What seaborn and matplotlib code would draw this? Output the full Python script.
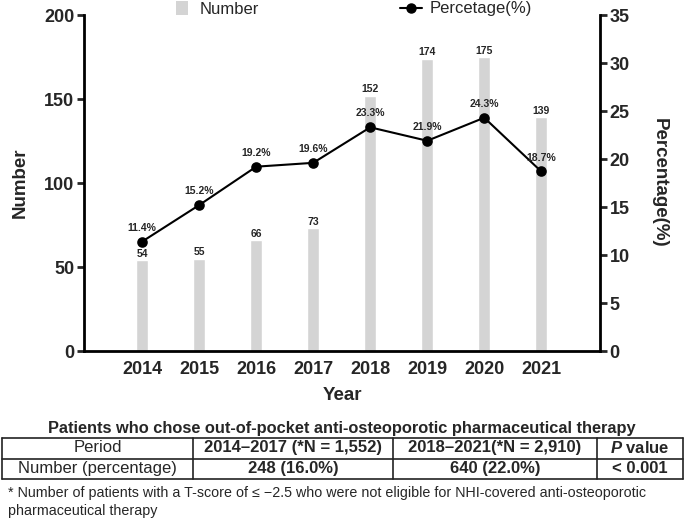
import matplotlib
matplotlib.use("Agg")
import matplotlib.pyplot as plt
from matplotlib.patches import Patch
from matplotlib.lines import Line2D
import seaborn as sns
import pandas as pd

years = ["2014", "2015", "2016", "2017", "2018", "2019", "2020", "2021"]
numbers = [54, 55, 66, 73, 152, 174, 175, 139]
percentages = [11.4, 15.2, 19.2, 19.6, 23.3, 21.9, 24.3, 18.7]

table_header = ["Period", "2014\u20132017 (*N = 1,552)", "2018\u20132021(*N = 2,910)", "P value"]
table_row = ["Number (percentage)", "248 (16.0%)", "640 (22.0%)", "< 0.001"]
table_title = "Patients who chose out-of-pocket anti-osteoporotic pharmaceutical therapy"
footnote = ("* Number of patients with a T-score of \u2264 \u22122.5 who were not eligible for NHI-covered anti-osteoporotic\n"
            "pharmaceutical therapy")

sns.set_style("white")
plt.rcParams["font.family"] = ["Liberation Sans", "DejaVu Sans"]
plt.rcParams["mathtext.fontset"] = "custom"
plt.rcParams["mathtext.bfit"] = "Liberation Sans:italic:bold"
plt.rcParams["mathtext.it"] = "Liberation Sans:italic"
plt.rcParams["mathtext.rm"] = "Liberation Sans"
plt.rcParams["mathtext.bf"] = "Liberation Sans:bold"

df = pd.DataFrame({"Year": years, "Number": numbers, "Percentage": percentages})

W, H = 685, 520
fig = plt.figure(figsize=(6.85, 5.2), dpi=100)
ax = fig.add_axes([84 / W, 1 - 351 / H, (600 - 84) / W, (351 - 15) / H])

bar_color = "#d4d4d4"
sns.barplot(data=df, x="Year", y="Number", color=bar_color, width=0.21,
            saturation=1, ax=ax, zorder=1)
ax.set_xlim(-1.02, 8.03)
ax.set_ylim(0, 200)
ax.set_yticks([0, 50, 100, 150, 200])

ax2 = ax.twinx()
sns.pointplot(data=df, x="Year", y="Percentage", color="black", markers="o",
              linestyles="-", ax=ax2, markersize=6.5, linewidth=1.5)
ax2.set_xlim(-1.02, 8.03)
ax2.set_ylim(0, 35)
ax2.set_yticks([0, 5, 10, 15, 20, 25, 30, 35])

for i, v in enumerate(numbers):
    ax2.annotate(str(v), (i, v), xycoords=ax.transData, xytext=(0, 4.6),
                 textcoords="offset points", ha="center", va="center",
                 fontsize=7.5, fontweight="bold", zorder=5)
for i, p in enumerate(percentages):
    ax2.annotate(f"{p:.1f}%", (i, p), xytext=(0, 10), textcoords="offset points",
                 ha="center", va="center", fontsize=7.5, fontweight="bold")

for a in (ax, ax2):
    for s in a.spines.values():
        s.set_linewidth(2)
        s.set_color("black")
    a.spines["top"].set_visible(False)
ax.spines["right"].set_visible(False)
ax2.spines["left"].set_visible(False)
ax2.spines["bottom"].set_visible(False)

ax.tick_params(axis="both", direction="out", length=5, width=2, labelsize=13, pad=2)
ax2.tick_params(axis="y", direction="out", length=5, width=2, labelsize=13, pad=2)
for lab in ax.get_xticklabels() + ax.get_yticklabels() + ax2.get_yticklabels():
    lab.set_fontweight("bold")

ax.set_xlabel("Year", fontsize=13.5, fontweight="bold")
ax.xaxis.set_label_coords(0.5, -0.108)
ax.set_ylabel("Number", fontsize=13.5, fontweight="bold", va="center")
ax.yaxis.set_label_coords(-0.124, 0.5)
ax2.set_ylabel("Percentage(%)", fontsize=13.5, fontweight="bold", rotation=270, va="center")
ax2.yaxis.set_label_coords(1.115, 0.5)

# legends
leg1 = fig.legend(handles=[Patch(facecolor=bar_color, edgecolor="none", label="Number")],
                  loc="center left", bbox_to_anchor=(176 / W, 1 - 9 / H), frameon=False,
                  fontsize=12, handlelength=0.7, handleheight=0.9, borderpad=0,
                  borderaxespad=0, handletextpad=0.7)
leg2 = fig.legend(handles=[Line2D([], [], color="black", marker="o", markersize=6.5,
                                  linewidth=1.5, label="Percetage(%)")],
                  loc="center left", bbox_to_anchor=(400 / W, 1 - 9 / H), frameon=False,
                  fontsize=12, handlelength=1.3, borderpad=0, borderaxespad=0,
                  handletextpad=0.5)

# table
fig.text(342 / W, 1 - 428 / H, table_title, ha="center", va="center",
         fontsize=11.8, fontweight="bold")
xs = [2, 193, 393, 597, 683]
ys = [438, 459, 479]
lw = 1.2
for y in ys:
    fig.add_artist(Line2D([xs[0] / W, xs[-1] / W], [1 - y / H, 1 - y / H],
                          color="#222222", linewidth=lw))
for x in xs:
    fig.add_artist(Line2D([x / W, x / W], [1 - ys[0] / H, 1 - ys[-1] / H],
                          color="#222222", linewidth=lw))
row_y = [(ys[0] + ys[1]) / 2, (ys[1] + ys[2]) / 2]
for j in range(4):
    cx = (xs[j] + xs[j + 1]) / 2 / W
    h = table_header[j]
    if j == 3:
        h = r"$\bfit{P}$ value"
    fig.text(cx, 1 - row_y[0] / H + 0.001, h, ha="center", va="center", fontsize=12,
             fontweight="normal" if j == 0 else "bold")
    fig.text(cx, 1 - row_y[1] / H + 0.001, table_row[j], ha="center", va="center", fontsize=12,
             fontweight="normal" if j == 0 else "bold")

fig.text(8 / W, 1 - 502 / H, footnote, ha="left", va="center", fontsize=10.3,
         linespacing=1.35)

fig.savefig("out.png", dpi=100)
